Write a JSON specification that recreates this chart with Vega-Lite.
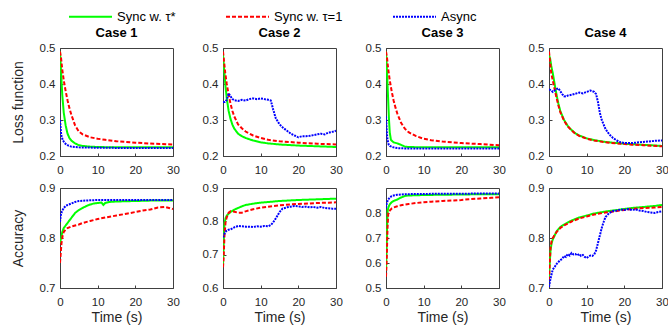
{
  "$schema": "https://vega.github.io/schema/vega-lite/v6.json",
  "padding": {"left": 10, "top": -6, "right": 0, "bottom": 0},
  "datasets": {
    "d": [
      {"c":1,"m":"L","s":"Sync w. τ*","t":0,"v":0.49},{"c":1,"m":"L","s":"Sync w. τ*","t":0.3,"v":0.43},{"c":1,"m":"L","s":"Sync w. τ*","t":0.6,"v":0.37},{"c":1,"m":"L","s":"Sync w. τ*","t":1,"v":0.32},{"c":1,"m":"L","s":"Sync w. τ*","t":1.5,"v":0.285},{"c":1,"m":"L","s":"Sync w. τ*","t":2,"v":0.262},{"c":1,"m":"L","s":"Sync w. τ*","t":2.5,"v":0.25},{"c":1,"m":"L","s":"Sync w. τ*","t":3,"v":0.243},{"c":1,"m":"L","s":"Sync w. τ*","t":4,"v":0.235},{"c":1,"m":"L","s":"Sync w. τ*","t":5,"v":0.23},{"c":1,"m":"L","s":"Sync w. τ*","t":6,"v":0.228},{"c":1,"m":"L","s":"Sync w. τ*","t":8,"v":0.226},{"c":1,"m":"L","s":"Sync w. τ*","t":10,"v":0.225},{"c":1,"m":"L","s":"Sync w. τ*","t":15,"v":0.224},{"c":1,"m":"L","s":"Sync w. τ*","t":20,"v":0.224},{"c":1,"m":"L","s":"Sync w. τ*","t":25,"v":0.224},{"c":1,"m":"L","s":"Sync w. τ*","t":30,"v":0.224},
      {"c":1,"m":"L","s":"Sync w. τ=1","t":0,"v":0.49},{"c":1,"m":"L","s":"Sync w. τ=1","t":0.3,"v":0.47},{"c":1,"m":"L","s":"Sync w. τ=1","t":0.6,"v":0.44},{"c":1,"m":"L","s":"Sync w. τ=1","t":1,"v":0.41},{"c":1,"m":"L","s":"Sync w. τ=1","t":1.5,"v":0.38},{"c":1,"m":"L","s":"Sync w. τ=1","t":2,"v":0.355},{"c":1,"m":"L","s":"Sync w. τ=1","t":2.5,"v":0.333},{"c":1,"m":"L","s":"Sync w. τ=1","t":3,"v":0.315},{"c":1,"m":"L","s":"Sync w. τ=1","t":4,"v":0.285},{"c":1,"m":"L","s":"Sync w. τ=1","t":5,"v":0.268},{"c":1,"m":"L","s":"Sync w. τ=1","t":6,"v":0.26},{"c":1,"m":"L","s":"Sync w. τ=1","t":8,"v":0.252},{"c":1,"m":"L","s":"Sync w. τ=1","t":10,"v":0.248},{"c":1,"m":"L","s":"Sync w. τ=1","t":12,"v":0.245},{"c":1,"m":"L","s":"Sync w. τ=1","t":15,"v":0.241},{"c":1,"m":"L","s":"Sync w. τ=1","t":20,"v":0.237},{"c":1,"m":"L","s":"Sync w. τ=1","t":25,"v":0.234},{"c":1,"m":"L","s":"Sync w. τ=1","t":30,"v":0.232},
      {"c":1,"m":"L","s":"Async","t":0,"v":0.30},{"c":1,"m":"L","s":"Async","t":0.3,"v":0.26},{"c":1,"m":"L","s":"Async","t":0.7,"v":0.245},{"c":1,"m":"L","s":"Async","t":1.2,"v":0.236},{"c":1,"m":"L","s":"Async","t":2,"v":0.23},{"c":1,"m":"L","s":"Async","t":3,"v":0.226},{"c":1,"m":"L","s":"Async","t":5,"v":0.224},{"c":1,"m":"L","s":"Async","t":10,"v":0.223},{"c":1,"m":"L","s":"Async","t":20,"v":0.222},{"c":1,"m":"L","s":"Async","t":30,"v":0.222},

      {"c":2,"m":"L","s":"Sync w. τ*","t":0,"v":0.48},{"c":2,"m":"L","s":"Sync w. τ*","t":0.3,"v":0.44},{"c":2,"m":"L","s":"Sync w. τ*","t":0.6,"v":0.40},{"c":2,"m":"L","s":"Sync w. τ*","t":1,"v":0.36},{"c":2,"m":"L","s":"Sync w. τ*","t":1.5,"v":0.325},{"c":2,"m":"L","s":"Sync w. τ*","t":2,"v":0.303},{"c":2,"m":"L","s":"Sync w. τ*","t":2.5,"v":0.287},{"c":2,"m":"L","s":"Sync w. τ*","t":3,"v":0.276},{"c":2,"m":"L","s":"Sync w. τ*","t":4,"v":0.262},{"c":2,"m":"L","s":"Sync w. τ*","t":5,"v":0.255},{"c":2,"m":"L","s":"Sync w. τ*","t":6,"v":0.25},{"c":2,"m":"L","s":"Sync w. τ*","t":8,"v":0.243},{"c":2,"m":"L","s":"Sync w. τ*","t":10,"v":0.238},{"c":2,"m":"L","s":"Sync w. τ*","t":12,"v":0.235},{"c":2,"m":"L","s":"Sync w. τ*","t":15,"v":0.232},{"c":2,"m":"L","s":"Sync w. τ*","t":20,"v":0.229},{"c":2,"m":"L","s":"Sync w. τ*","t":25,"v":0.227},{"c":2,"m":"L","s":"Sync w. τ*","t":30,"v":0.225},
      {"c":2,"m":"L","s":"Sync w. τ=1","t":0,"v":0.49},{"c":2,"m":"L","s":"Sync w. τ=1","t":0.3,"v":0.46},{"c":2,"m":"L","s":"Sync w. τ=1","t":0.6,"v":0.43},{"c":2,"m":"L","s":"Sync w. τ=1","t":1,"v":0.40},{"c":2,"m":"L","s":"Sync w. τ=1","t":1.5,"v":0.37},{"c":2,"m":"L","s":"Sync w. τ=1","t":2,"v":0.345},{"c":2,"m":"L","s":"Sync w. τ=1","t":2.5,"v":0.325},{"c":2,"m":"L","s":"Sync w. τ=1","t":3,"v":0.31},{"c":2,"m":"L","s":"Sync w. τ=1","t":4,"v":0.288},{"c":2,"m":"L","s":"Sync w. τ=1","t":5,"v":0.277},{"c":2,"m":"L","s":"Sync w. τ=1","t":6,"v":0.268},{"c":2,"m":"L","s":"Sync w. τ=1","t":8,"v":0.257},{"c":2,"m":"L","s":"Sync w. τ=1","t":10,"v":0.25},{"c":2,"m":"L","s":"Sync w. τ=1","t":12,"v":0.245},{"c":2,"m":"L","s":"Sync w. τ=1","t":15,"v":0.241},{"c":2,"m":"L","s":"Sync w. τ=1","t":20,"v":0.237},{"c":2,"m":"L","s":"Sync w. τ=1","t":25,"v":0.234},{"c":2,"m":"L","s":"Sync w. τ=1","t":30,"v":0.232},
      {"c":2,"m":"L","s":"Async","t":0,"v":0.35},{"c":2,"m":"L","s":"Async","t":0.5,"v":0.35},{"c":2,"m":"L","s":"Async","t":1,"v":0.356},{"c":2,"m":"L","s":"Async","t":1.5,"v":0.374},{"c":2,"m":"L","s":"Async","t":2,"v":0.366},{"c":2,"m":"L","s":"Async","t":2.5,"v":0.358},{"c":2,"m":"L","s":"Async","t":3,"v":0.355},{"c":2,"m":"L","s":"Async","t":4,"v":0.353},{"c":2,"m":"L","s":"Async","t":5,"v":0.356},{"c":2,"m":"L","s":"Async","t":6,"v":0.354},{"c":2,"m":"L","s":"Async","t":7,"v":0.358},{"c":2,"m":"L","s":"Async","t":8,"v":0.36},{"c":2,"m":"L","s":"Async","t":9,"v":0.358},{"c":2,"m":"L","s":"Async","t":10,"v":0.36},{"c":2,"m":"L","s":"Async","t":11,"v":0.358},{"c":2,"m":"L","s":"Async","t":12,"v":0.356},{"c":2,"m":"L","s":"Async","t":12.7,"v":0.354},{"c":2,"m":"L","s":"Async","t":13.3,"v":0.33},{"c":2,"m":"L","s":"Async","t":14,"v":0.305},{"c":2,"m":"L","s":"Async","t":15,"v":0.288},{"c":2,"m":"L","s":"Async","t":16,"v":0.278},{"c":2,"m":"L","s":"Async","t":17,"v":0.27},{"c":2,"m":"L","s":"Async","t":18,"v":0.262},{"c":2,"m":"L","s":"Async","t":19,"v":0.257},{"c":2,"m":"L","s":"Async","t":20,"v":0.252},{"c":2,"m":"L","s":"Async","t":21,"v":0.255},{"c":2,"m":"L","s":"Async","t":22,"v":0.255},{"c":2,"m":"L","s":"Async","t":23,"v":0.256},{"c":2,"m":"L","s":"Async","t":24,"v":0.258},{"c":2,"m":"L","s":"Async","t":25,"v":0.26},{"c":2,"m":"L","s":"Async","t":26,"v":0.262},{"c":2,"m":"L","s":"Async","t":27,"v":0.26},{"c":2,"m":"L","s":"Async","t":28,"v":0.265},{"c":2,"m":"L","s":"Async","t":29,"v":0.267},{"c":2,"m":"L","s":"Async","t":30,"v":0.27},

      {"c":3,"m":"L","s":"Sync w. τ*","t":0,"v":0.49},{"c":3,"m":"L","s":"Sync w. τ*","t":0.2,"v":0.45},{"c":3,"m":"L","s":"Sync w. τ*","t":0.4,"v":0.40},{"c":3,"m":"L","s":"Sync w. τ*","t":0.6,"v":0.35},{"c":3,"m":"L","s":"Sync w. τ*","t":0.8,"v":0.30},{"c":3,"m":"L","s":"Sync w. τ*","t":1,"v":0.265},{"c":3,"m":"L","s":"Sync w. τ*","t":1.3,"v":0.245},{"c":3,"m":"L","s":"Sync w. τ*","t":2,"v":0.238},{"c":3,"m":"L","s":"Sync w. τ*","t":3,"v":0.235},{"c":3,"m":"L","s":"Sync w. τ*","t":4,"v":0.231},{"c":3,"m":"L","s":"Sync w. τ*","t":5,"v":0.226},{"c":3,"m":"L","s":"Sync w. τ*","t":6,"v":0.225},{"c":3,"m":"L","s":"Sync w. τ*","t":10,"v":0.224},{"c":3,"m":"L","s":"Sync w. τ*","t":20,"v":0.224},{"c":3,"m":"L","s":"Sync w. τ*","t":30,"v":0.224},
      {"c":3,"m":"L","s":"Sync w. τ=1","t":0,"v":0.49},{"c":3,"m":"L","s":"Sync w. τ=1","t":0.3,"v":0.47},{"c":3,"m":"L","s":"Sync w. τ=1","t":0.6,"v":0.44},{"c":3,"m":"L","s":"Sync w. τ=1","t":1,"v":0.41},{"c":3,"m":"L","s":"Sync w. τ=1","t":1.5,"v":0.38},{"c":3,"m":"L","s":"Sync w. τ=1","t":2,"v":0.355},{"c":3,"m":"L","s":"Sync w. τ=1","t":2.5,"v":0.335},{"c":3,"m":"L","s":"Sync w. τ=1","t":3,"v":0.318},{"c":3,"m":"L","s":"Sync w. τ=1","t":4,"v":0.292},{"c":3,"m":"L","s":"Sync w. τ=1","t":5,"v":0.276},{"c":3,"m":"L","s":"Sync w. τ=1","t":6,"v":0.266},{"c":3,"m":"L","s":"Sync w. τ=1","t":8,"v":0.255},{"c":3,"m":"L","s":"Sync w. τ=1","t":10,"v":0.248},{"c":3,"m":"L","s":"Sync w. τ=1","t":12,"v":0.244},{"c":3,"m":"L","s":"Sync w. τ=1","t":15,"v":0.24},{"c":3,"m":"L","s":"Sync w. τ=1","t":20,"v":0.236},{"c":3,"m":"L","s":"Sync w. τ=1","t":25,"v":0.233},{"c":3,"m":"L","s":"Sync w. τ=1","t":30,"v":0.23},
      {"c":3,"m":"L","s":"Async","t":0,"v":0.31},{"c":3,"m":"L","s":"Async","t":0.2,"v":0.27},{"c":3,"m":"L","s":"Async","t":0.4,"v":0.245},{"c":3,"m":"L","s":"Async","t":0.7,"v":0.232},{"c":3,"m":"L","s":"Async","t":1,"v":0.228},{"c":3,"m":"L","s":"Async","t":2,"v":0.224},{"c":3,"m":"L","s":"Async","t":3,"v":0.222},{"c":3,"m":"L","s":"Async","t":5,"v":0.221},{"c":3,"m":"L","s":"Async","t":10,"v":0.221},{"c":3,"m":"L","s":"Async","t":30,"v":0.221},

      {"c":4,"m":"L","s":"Sync w. τ*","t":0,"v":0.48},{"c":4,"m":"L","s":"Sync w. τ*","t":0.3,"v":0.47},{"c":4,"m":"L","s":"Sync w. τ*","t":0.6,"v":0.45},{"c":4,"m":"L","s":"Sync w. τ*","t":1,"v":0.43},{"c":4,"m":"L","s":"Sync w. τ*","t":1.5,"v":0.40},{"c":4,"m":"L","s":"Sync w. τ*","t":2,"v":0.37},{"c":4,"m":"L","s":"Sync w. τ*","t":2.5,"v":0.345},{"c":4,"m":"L","s":"Sync w. τ*","t":3,"v":0.325},{"c":4,"m":"L","s":"Sync w. τ*","t":4,"v":0.30},{"c":4,"m":"L","s":"Sync w. τ*","t":5,"v":0.283},{"c":4,"m":"L","s":"Sync w. τ*","t":6,"v":0.272},{"c":4,"m":"L","s":"Sync w. τ*","t":7,"v":0.263},{"c":4,"m":"L","s":"Sync w. τ*","t":8,"v":0.257},{"c":4,"m":"L","s":"Sync w. τ*","t":10,"v":0.249},{"c":4,"m":"L","s":"Sync w. τ*","t":12,"v":0.244},{"c":4,"m":"L","s":"Sync w. τ*","t":15,"v":0.239},{"c":4,"m":"L","s":"Sync w. τ*","t":18,"v":0.236},{"c":4,"m":"L","s":"Sync w. τ*","t":20,"v":0.234},{"c":4,"m":"L","s":"Sync w. τ*","t":25,"v":0.231},{"c":4,"m":"L","s":"Sync w. τ*","t":30,"v":0.228},
      {"c":4,"m":"L","s":"Sync w. τ=1","t":0,"v":0.49},{"c":4,"m":"L","s":"Sync w. τ=1","t":0.3,"v":0.46},{"c":4,"m":"L","s":"Sync w. τ=1","t":0.6,"v":0.43},{"c":4,"m":"L","s":"Sync w. τ=1","t":1,"v":0.41},{"c":4,"m":"L","s":"Sync w. τ=1","t":1.5,"v":0.385},{"c":4,"m":"L","s":"Sync w. τ=1","t":2,"v":0.362},{"c":4,"m":"L","s":"Sync w. τ=1","t":2.5,"v":0.34},{"c":4,"m":"L","s":"Sync w. τ=1","t":3,"v":0.322},{"c":4,"m":"L","s":"Sync w. τ=1","t":4,"v":0.298},{"c":4,"m":"L","s":"Sync w. τ=1","t":5,"v":0.282},{"c":4,"m":"L","s":"Sync w. τ=1","t":6,"v":0.271},{"c":4,"m":"L","s":"Sync w. τ=1","t":7,"v":0.262},{"c":4,"m":"L","s":"Sync w. τ=1","t":8,"v":0.256},{"c":4,"m":"L","s":"Sync w. τ=1","t":10,"v":0.248},{"c":4,"m":"L","s":"Sync w. τ=1","t":12,"v":0.243},{"c":4,"m":"L","s":"Sync w. τ=1","t":15,"v":0.238},{"c":4,"m":"L","s":"Sync w. τ=1","t":18,"v":0.235},{"c":4,"m":"L","s":"Sync w. τ=1","t":20,"v":0.233},{"c":4,"m":"L","s":"Sync w. τ=1","t":25,"v":0.23},{"c":4,"m":"L","s":"Sync w. τ=1","t":30,"v":0.227},
      {"c":4,"m":"L","s":"Async","t":0,"v":0.385},{"c":4,"m":"L","s":"Async","t":0.5,"v":0.383},{"c":4,"m":"L","s":"Async","t":1,"v":0.378},{"c":4,"m":"L","s":"Async","t":1.5,"v":0.382},{"c":4,"m":"L","s":"Async","t":2,"v":0.386},{"c":4,"m":"L","s":"Async","t":2.5,"v":0.388},{"c":4,"m":"L","s":"Async","t":3,"v":0.38},{"c":4,"m":"L","s":"Async","t":3.5,"v":0.372},{"c":4,"m":"L","s":"Async","t":4,"v":0.366},{"c":4,"m":"L","s":"Async","t":4.5,"v":0.365},{"c":4,"m":"L","s":"Async","t":5,"v":0.368},{"c":4,"m":"L","s":"Async","t":6,"v":0.37},{"c":4,"m":"L","s":"Async","t":7,"v":0.373},{"c":4,"m":"L","s":"Async","t":8,"v":0.376},{"c":4,"m":"L","s":"Async","t":9,"v":0.374},{"c":4,"m":"L","s":"Async","t":10,"v":0.378},{"c":4,"m":"L","s":"Async","t":11,"v":0.382},{"c":4,"m":"L","s":"Async","t":11.5,"v":0.38},{"c":4,"m":"L","s":"Async","t":12,"v":0.378},{"c":4,"m":"L","s":"Async","t":12.5,"v":0.372},{"c":4,"m":"L","s":"Async","t":13,"v":0.35},{"c":4,"m":"L","s":"Async","t":13.5,"v":0.32},{"c":4,"m":"L","s":"Async","t":14,"v":0.30},{"c":4,"m":"L","s":"Async","t":15,"v":0.275},{"c":4,"m":"L","s":"Async","t":16,"v":0.26},{"c":4,"m":"L","s":"Async","t":17,"v":0.25},{"c":4,"m":"L","s":"Async","t":18,"v":0.243},{"c":4,"m":"L","s":"Async","t":19,"v":0.238},{"c":4,"m":"L","s":"Async","t":20,"v":0.236},{"c":4,"m":"L","s":"Async","t":22,"v":0.236},{"c":4,"m":"L","s":"Async","t":24,"v":0.238},{"c":4,"m":"L","s":"Async","t":26,"v":0.24},{"c":4,"m":"L","s":"Async","t":28,"v":0.242},{"c":4,"m":"L","s":"Async","t":30,"v":0.243},

      {"c":1,"m":"A","s":"Sync w. τ*","t":0,"v":0.79},{"c":1,"m":"A","s":"Sync w. τ*","t":0.3,"v":0.80},{"c":1,"m":"A","s":"Sync w. τ*","t":0.6,"v":0.812},{"c":1,"m":"A","s":"Sync w. τ*","t":1,"v":0.82},{"c":1,"m":"A","s":"Sync w. τ*","t":1.5,"v":0.825},{"c":1,"m":"A","s":"Sync w. τ*","t":2,"v":0.83},{"c":1,"m":"A","s":"Sync w. τ*","t":3,"v":0.84},{"c":1,"m":"A","s":"Sync w. τ*","t":4,"v":0.85},{"c":1,"m":"A","s":"Sync w. τ*","t":5,"v":0.856},{"c":1,"m":"A","s":"Sync w. τ*","t":6,"v":0.86},{"c":1,"m":"A","s":"Sync w. τ*","t":7,"v":0.864},{"c":1,"m":"A","s":"Sync w. τ*","t":8,"v":0.867},{"c":1,"m":"A","s":"Sync w. τ*","t":9,"v":0.869},{"c":1,"m":"A","s":"Sync w. τ*","t":10,"v":0.87},{"c":1,"m":"A","s":"Sync w. τ*","t":11,"v":0.871},{"c":1,"m":"A","s":"Sync w. τ*","t":11.5,"v":0.866},{"c":1,"m":"A","s":"Sync w. τ*","t":12,"v":0.87},{"c":1,"m":"A","s":"Sync w. τ*","t":13,"v":0.872},{"c":1,"m":"A","s":"Sync w. τ*","t":15,"v":0.873},{"c":1,"m":"A","s":"Sync w. τ*","t":20,"v":0.874},{"c":1,"m":"A","s":"Sync w. τ*","t":25,"v":0.875},{"c":1,"m":"A","s":"Sync w. τ*","t":30,"v":0.875},
      {"c":1,"m":"A","s":"Sync w. τ=1","t":0,"v":0.75},{"c":1,"m":"A","s":"Sync w. τ=1","t":0.2,"v":0.77},{"c":1,"m":"A","s":"Sync w. τ=1","t":0.4,"v":0.79},{"c":1,"m":"A","s":"Sync w. τ=1","t":0.7,"v":0.805},{"c":1,"m":"A","s":"Sync w. τ=1","t":1,"v":0.812},{"c":1,"m":"A","s":"Sync w. τ=1","t":1.5,"v":0.817},{"c":1,"m":"A","s":"Sync w. τ=1","t":2,"v":0.82},{"c":1,"m":"A","s":"Sync w. τ=1","t":3,"v":0.823},{"c":1,"m":"A","s":"Sync w. τ=1","t":4,"v":0.825},{"c":1,"m":"A","s":"Sync w. τ=1","t":5,"v":0.827},{"c":1,"m":"A","s":"Sync w. τ=1","t":6,"v":0.83},{"c":1,"m":"A","s":"Sync w. τ=1","t":8,"v":0.834},{"c":1,"m":"A","s":"Sync w. τ=1","t":10,"v":0.838},{"c":1,"m":"A","s":"Sync w. τ=1","t":12,"v":0.841},{"c":1,"m":"A","s":"Sync w. τ=1","t":15,"v":0.845},{"c":1,"m":"A","s":"Sync w. τ=1","t":18,"v":0.849},{"c":1,"m":"A","s":"Sync w. τ=1","t":20,"v":0.852},{"c":1,"m":"A","s":"Sync w. τ=1","t":22,"v":0.855},{"c":1,"m":"A","s":"Sync w. τ=1","t":24,"v":0.857},{"c":1,"m":"A","s":"Sync w. τ=1","t":26,"v":0.861},{"c":1,"m":"A","s":"Sync w. τ=1","t":28,"v":0.862},{"c":1,"m":"A","s":"Sync w. τ=1","t":30,"v":0.858},
      {"c":1,"m":"A","s":"Async","t":0,"v":0.832},{"c":1,"m":"A","s":"Async","t":0.2,"v":0.845},{"c":1,"m":"A","s":"Async","t":0.5,"v":0.853},{"c":1,"m":"A","s":"Async","t":1,"v":0.86},{"c":1,"m":"A","s":"Async","t":1.5,"v":0.864},{"c":1,"m":"A","s":"Async","t":2,"v":0.866},{"c":1,"m":"A","s":"Async","t":3,"v":0.869},{"c":1,"m":"A","s":"Async","t":4,"v":0.872},{"c":1,"m":"A","s":"Async","t":5,"v":0.874},{"c":1,"m":"A","s":"Async","t":7,"v":0.875},{"c":1,"m":"A","s":"Async","t":10,"v":0.876},{"c":1,"m":"A","s":"Async","t":20,"v":0.876},{"c":1,"m":"A","s":"Async","t":30,"v":0.876},

      {"c":2,"m":"A","s":"Sync w. τ*","t":0,"v":0.668},{"c":2,"m":"A","s":"Sync w. τ*","t":0.2,"v":0.74},{"c":2,"m":"A","s":"Sync w. τ*","t":0.4,"v":0.795},{"c":2,"m":"A","s":"Sync w. τ*","t":0.7,"v":0.81},{"c":2,"m":"A","s":"Sync w. τ*","t":1,"v":0.817},{"c":2,"m":"A","s":"Sync w. τ*","t":1.5,"v":0.823},{"c":2,"m":"A","s":"Sync w. τ*","t":2,"v":0.828},{"c":2,"m":"A","s":"Sync w. τ*","t":3,"v":0.835},{"c":2,"m":"A","s":"Sync w. τ*","t":4,"v":0.84},{"c":2,"m":"A","s":"Sync w. τ*","t":5,"v":0.845},{"c":2,"m":"A","s":"Sync w. τ*","t":6,"v":0.849},{"c":2,"m":"A","s":"Sync w. τ*","t":8,"v":0.853},{"c":2,"m":"A","s":"Sync w. τ*","t":10,"v":0.856},{"c":2,"m":"A","s":"Sync w. τ*","t":12,"v":0.858},{"c":2,"m":"A","s":"Sync w. τ*","t":15,"v":0.861},{"c":2,"m":"A","s":"Sync w. τ*","t":20,"v":0.864},{"c":2,"m":"A","s":"Sync w. τ*","t":25,"v":0.866},{"c":2,"m":"A","s":"Sync w. τ*","t":30,"v":0.868},
      {"c":2,"m":"A","s":"Sync w. τ=1","t":0,"v":0.662},{"c":2,"m":"A","s":"Sync w. τ=1","t":0.2,"v":0.70},{"c":2,"m":"A","s":"Sync w. τ=1","t":0.4,"v":0.76},{"c":2,"m":"A","s":"Sync w. τ=1","t":0.7,"v":0.80},{"c":2,"m":"A","s":"Sync w. τ=1","t":1,"v":0.812},{"c":2,"m":"A","s":"Sync w. τ=1","t":1.5,"v":0.826},{"c":2,"m":"A","s":"Sync w. τ=1","t":2,"v":0.83},{"c":2,"m":"A","s":"Sync w. τ=1","t":3,"v":0.829},{"c":2,"m":"A","s":"Sync w. τ=1","t":4,"v":0.826},{"c":2,"m":"A","s":"Sync w. τ=1","t":5,"v":0.826},{"c":2,"m":"A","s":"Sync w. τ=1","t":6,"v":0.83},{"c":2,"m":"A","s":"Sync w. τ=1","t":8,"v":0.836},{"c":2,"m":"A","s":"Sync w. τ=1","t":10,"v":0.841},{"c":2,"m":"A","s":"Sync w. τ=1","t":12,"v":0.844},{"c":2,"m":"A","s":"Sync w. τ=1","t":15,"v":0.848},{"c":2,"m":"A","s":"Sync w. τ=1","t":18,"v":0.851},{"c":2,"m":"A","s":"Sync w. τ=1","t":20,"v":0.852},{"c":2,"m":"A","s":"Sync w. τ=1","t":25,"v":0.855},{"c":2,"m":"A","s":"Sync w. τ=1","t":28,"v":0.856},{"c":2,"m":"A","s":"Sync w. τ=1","t":30,"v":0.857},
      {"c":2,"m":"A","s":"Async","t":0,"v":0.752},{"c":2,"m":"A","s":"Async","t":0.3,"v":0.76},{"c":2,"m":"A","s":"Async","t":0.6,"v":0.768},{"c":2,"m":"A","s":"Async","t":1,"v":0.772},{"c":2,"m":"A","s":"Async","t":1.5,"v":0.775},{"c":2,"m":"A","s":"Async","t":2,"v":0.776},{"c":2,"m":"A","s":"Async","t":3,"v":0.782},{"c":2,"m":"A","s":"Async","t":4,"v":0.786},{"c":2,"m":"A","s":"Async","t":5,"v":0.785},{"c":2,"m":"A","s":"Async","t":6,"v":0.784},{"c":2,"m":"A","s":"Async","t":7,"v":0.784},{"c":2,"m":"A","s":"Async","t":8,"v":0.783},{"c":2,"m":"A","s":"Async","t":9,"v":0.785},{"c":2,"m":"A","s":"Async","t":10,"v":0.784},{"c":2,"m":"A","s":"Async","t":11,"v":0.786},{"c":2,"m":"A","s":"Async","t":12,"v":0.785},{"c":2,"m":"A","s":"Async","t":12.8,"v":0.79},{"c":2,"m":"A","s":"Async","t":13.5,"v":0.80},{"c":2,"m":"A","s":"Async","t":14.2,"v":0.812},{"c":2,"m":"A","s":"Async","t":15,"v":0.828},{"c":2,"m":"A","s":"Async","t":15.8,"v":0.838},{"c":2,"m":"A","s":"Async","t":17,"v":0.842},{"c":2,"m":"A","s":"Async","t":18,"v":0.844},{"c":2,"m":"A","s":"Async","t":19,"v":0.846},{"c":2,"m":"A","s":"Async","t":20,"v":0.845},{"c":2,"m":"A","s":"Async","t":21,"v":0.843},{"c":2,"m":"A","s":"Async","t":22,"v":0.844},{"c":2,"m":"A","s":"Async","t":23,"v":0.842},{"c":2,"m":"A","s":"Async","t":24,"v":0.843},{"c":2,"m":"A","s":"Async","t":25,"v":0.841},{"c":2,"m":"A","s":"Async","t":26,"v":0.843},{"c":2,"m":"A","s":"Async","t":27,"v":0.84},{"c":2,"m":"A","s":"Async","t":28,"v":0.839},{"c":2,"m":"A","s":"Async","t":29,"v":0.838},{"c":2,"m":"A","s":"Async","t":30,"v":0.838},

      {"c":3,"m":"A","s":"Sync w. τ*","t":0,"v":0.57},{"c":3,"m":"A","s":"Sync w. τ*","t":0.15,"v":0.65},{"c":3,"m":"A","s":"Sync w. τ*","t":0.3,"v":0.75},{"c":3,"m":"A","s":"Sync w. τ*","t":0.45,"v":0.81},{"c":3,"m":"A","s":"Sync w. τ*","t":0.7,"v":0.825},{"c":3,"m":"A","s":"Sync w. τ*","t":1,"v":0.835},{"c":3,"m":"A","s":"Sync w. τ*","t":1.5,"v":0.843},{"c":3,"m":"A","s":"Sync w. τ*","t":2,"v":0.848},{"c":3,"m":"A","s":"Sync w. τ*","t":3,"v":0.854},{"c":3,"m":"A","s":"Sync w. τ*","t":4,"v":0.862},{"c":3,"m":"A","s":"Sync w. τ*","t":5,"v":0.868},{"c":3,"m":"A","s":"Sync w. τ*","t":6,"v":0.87},{"c":3,"m":"A","s":"Sync w. τ*","t":8,"v":0.871},{"c":3,"m":"A","s":"Sync w. τ*","t":10,"v":0.872},{"c":3,"m":"A","s":"Sync w. τ*","t":15,"v":0.873},{"c":3,"m":"A","s":"Sync w. τ*","t":20,"v":0.874},{"c":3,"m":"A","s":"Sync w. τ*","t":25,"v":0.875},{"c":3,"m":"A","s":"Sync w. τ*","t":30,"v":0.875},
      {"c":3,"m":"A","s":"Sync w. τ=1","t":0,"v":0.545},{"c":3,"m":"A","s":"Sync w. τ=1","t":0.2,"v":0.62},{"c":3,"m":"A","s":"Sync w. τ=1","t":0.4,"v":0.74},{"c":3,"m":"A","s":"Sync w. τ=1","t":0.6,"v":0.80},{"c":3,"m":"A","s":"Sync w. τ=1","t":1,"v":0.81},{"c":3,"m":"A","s":"Sync w. τ=1","t":1.5,"v":0.818},{"c":3,"m":"A","s":"Sync w. τ=1","t":2,"v":0.822},{"c":3,"m":"A","s":"Sync w. τ=1","t":3,"v":0.827},{"c":3,"m":"A","s":"Sync w. τ=1","t":4,"v":0.831},{"c":3,"m":"A","s":"Sync w. τ=1","t":5,"v":0.834},{"c":3,"m":"A","s":"Sync w. τ=1","t":6,"v":0.836},{"c":3,"m":"A","s":"Sync w. τ=1","t":8,"v":0.84},{"c":3,"m":"A","s":"Sync w. τ=1","t":10,"v":0.843},{"c":3,"m":"A","s":"Sync w. τ=1","t":12,"v":0.845},{"c":3,"m":"A","s":"Sync w. τ=1","t":15,"v":0.848},{"c":3,"m":"A","s":"Sync w. τ=1","t":18,"v":0.85},{"c":3,"m":"A","s":"Sync w. τ=1","t":20,"v":0.852},{"c":3,"m":"A","s":"Sync w. τ=1","t":22,"v":0.855},{"c":3,"m":"A","s":"Sync w. τ=1","t":25,"v":0.858},{"c":3,"m":"A","s":"Sync w. τ=1","t":28,"v":0.861},{"c":3,"m":"A","s":"Sync w. τ=1","t":30,"v":0.863},
      {"c":3,"m":"A","s":"Async","t":0,"v":0.82},{"c":3,"m":"A","s":"Async","t":0.2,"v":0.84},{"c":3,"m":"A","s":"Async","t":0.5,"v":0.852},{"c":3,"m":"A","s":"Async","t":1,"v":0.862},{"c":3,"m":"A","s":"Async","t":1.5,"v":0.867},{"c":3,"m":"A","s":"Async","t":2,"v":0.87},{"c":3,"m":"A","s":"Async","t":3,"v":0.873},{"c":3,"m":"A","s":"Async","t":5,"v":0.875},{"c":3,"m":"A","s":"Async","t":8,"v":0.876},{"c":3,"m":"A","s":"Async","t":15,"v":0.877},{"c":3,"m":"A","s":"Async","t":30,"v":0.878},

      {"c":4,"m":"A","s":"Sync w. τ*","t":0,"v":0.72},{"c":4,"m":"A","s":"Sync w. τ*","t":0.2,"v":0.75},{"c":4,"m":"A","s":"Sync w. τ*","t":0.4,"v":0.775},{"c":4,"m":"A","s":"Sync w. τ*","t":0.7,"v":0.79},{"c":4,"m":"A","s":"Sync w. τ*","t":1,"v":0.797},{"c":4,"m":"A","s":"Sync w. τ*","t":1.5,"v":0.805},{"c":4,"m":"A","s":"Sync w. τ*","t":2,"v":0.813},{"c":4,"m":"A","s":"Sync w. τ*","t":3,"v":0.822},{"c":4,"m":"A","s":"Sync w. τ*","t":4,"v":0.827},{"c":4,"m":"A","s":"Sync w. τ*","t":5,"v":0.831},{"c":4,"m":"A","s":"Sync w. τ*","t":6,"v":0.835},{"c":4,"m":"A","s":"Sync w. τ*","t":7,"v":0.838},{"c":4,"m":"A","s":"Sync w. τ*","t":8,"v":0.841},{"c":4,"m":"A","s":"Sync w. τ*","t":10,"v":0.845},{"c":4,"m":"A","s":"Sync w. τ*","t":12,"v":0.849},{"c":4,"m":"A","s":"Sync w. τ*","t":15,"v":0.853},{"c":4,"m":"A","s":"Sync w. τ*","t":18,"v":0.856},{"c":4,"m":"A","s":"Sync w. τ*","t":20,"v":0.858},{"c":4,"m":"A","s":"Sync w. τ*","t":22,"v":0.86},{"c":4,"m":"A","s":"Sync w. τ*","t":25,"v":0.862},{"c":4,"m":"A","s":"Sync w. τ*","t":28,"v":0.864},{"c":4,"m":"A","s":"Sync w. τ*","t":30,"v":0.866},
      {"c":4,"m":"A","s":"Sync w. τ=1","t":0,"v":0.715},{"c":4,"m":"A","s":"Sync w. τ=1","t":0.2,"v":0.75},{"c":4,"m":"A","s":"Sync w. τ=1","t":0.4,"v":0.78},{"c":4,"m":"A","s":"Sync w. τ=1","t":0.7,"v":0.795},{"c":4,"m":"A","s":"Sync w. τ=1","t":1,"v":0.80},{"c":4,"m":"A","s":"Sync w. τ=1","t":1.5,"v":0.806},{"c":4,"m":"A","s":"Sync w. τ=1","t":2,"v":0.812},{"c":4,"m":"A","s":"Sync w. τ=1","t":3,"v":0.82},{"c":4,"m":"A","s":"Sync w. τ=1","t":4,"v":0.825},{"c":4,"m":"A","s":"Sync w. τ=1","t":5,"v":0.829},{"c":4,"m":"A","s":"Sync w. τ=1","t":6,"v":0.833},{"c":4,"m":"A","s":"Sync w. τ=1","t":7,"v":0.836},{"c":4,"m":"A","s":"Sync w. τ=1","t":8,"v":0.839},{"c":4,"m":"A","s":"Sync w. τ=1","t":10,"v":0.843},{"c":4,"m":"A","s":"Sync w. τ=1","t":12,"v":0.847},{"c":4,"m":"A","s":"Sync w. τ=1","t":15,"v":0.851},{"c":4,"m":"A","s":"Sync w. τ=1","t":18,"v":0.854},{"c":4,"m":"A","s":"Sync w. τ=1","t":20,"v":0.856},{"c":4,"m":"A","s":"Sync w. τ=1","t":22,"v":0.858},{"c":4,"m":"A","s":"Sync w. τ=1","t":25,"v":0.86},{"c":4,"m":"A","s":"Sync w. τ=1","t":28,"v":0.861},{"c":4,"m":"A","s":"Sync w. τ=1","t":30,"v":0.862},
      {"c":4,"m":"A","s":"Async","t":0,"v":0.702},{"c":4,"m":"A","s":"Async","t":0.3,"v":0.715},{"c":4,"m":"A","s":"Async","t":0.6,"v":0.725},{"c":4,"m":"A","s":"Async","t":1,"v":0.737},{"c":4,"m":"A","s":"Async","t":1.5,"v":0.742},{"c":4,"m":"A","s":"Async","t":2,"v":0.748},{"c":4,"m":"A","s":"Async","t":2.5,"v":0.752},{"c":4,"m":"A","s":"Async","t":3,"v":0.756},{"c":4,"m":"A","s":"Async","t":3.5,"v":0.758},{"c":4,"m":"A","s":"Async","t":4,"v":0.764},{"c":4,"m":"A","s":"Async","t":4.5,"v":0.762},{"c":4,"m":"A","s":"Async","t":5,"v":0.768},{"c":4,"m":"A","s":"Async","t":5.5,"v":0.765},{"c":4,"m":"A","s":"Async","t":6,"v":0.77},{"c":4,"m":"A","s":"Async","t":6.5,"v":0.767},{"c":4,"m":"A","s":"Async","t":7,"v":0.768},{"c":4,"m":"A","s":"Async","t":7.5,"v":0.765},{"c":4,"m":"A","s":"Async","t":8,"v":0.768},{"c":4,"m":"A","s":"Async","t":8.5,"v":0.764},{"c":4,"m":"A","s":"Async","t":9,"v":0.766},{"c":4,"m":"A","s":"Async","t":9.5,"v":0.762},{"c":4,"m":"A","s":"Async","t":10,"v":0.76},{"c":4,"m":"A","s":"Async","t":10.5,"v":0.763},{"c":4,"m":"A","s":"Async","t":11,"v":0.765},{"c":4,"m":"A","s":"Async","t":11.5,"v":0.764},{"c":4,"m":"A","s":"Async","t":12,"v":0.767},{"c":4,"m":"A","s":"Async","t":12.5,"v":0.775},{"c":4,"m":"A","s":"Async","t":13,"v":0.79},{"c":4,"m":"A","s":"Async","t":13.5,"v":0.805},{"c":4,"m":"A","s":"Async","t":14,"v":0.82},{"c":4,"m":"A","s":"Async","t":14.5,"v":0.832},{"c":4,"m":"A","s":"Async","t":15,"v":0.842},{"c":4,"m":"A","s":"Async","t":16,"v":0.85},{"c":4,"m":"A","s":"Async","t":17,"v":0.854},{"c":4,"m":"A","s":"Async","t":18,"v":0.855},{"c":4,"m":"A","s":"Async","t":19,"v":0.857},{"c":4,"m":"A","s":"Async","t":20,"v":0.856},{"c":4,"m":"A","s":"Async","t":21,"v":0.858},{"c":4,"m":"A","s":"Async","t":22,"v":0.856},{"c":4,"m":"A","s":"Async","t":23,"v":0.857},{"c":4,"m":"A","s":"Async","t":24,"v":0.855},{"c":4,"m":"A","s":"Async","t":25,"v":0.854},{"c":4,"m":"A","s":"Async","t":26,"v":0.852},{"c":4,"m":"A","s":"Async","t":27,"v":0.851},{"c":4,"m":"A","s":"Async","t":28,"v":0.85},{"c":4,"m":"A","s":"Async","t":29,"v":0.852},{"c":4,"m":"A","s":"Async","t":30,"v":0.853}
    ]
  },
  "data": {"name": "d"},
  "columns": 4,
  "bounds": "flush",
  "spacing": {"row": 32, "column": 50},
  "concat": [
    {"width": 113, "height": 108, "title": "Case 1",
     "transform": [{"filter": "datum.c == 1 && datum.m == 'L'"}],
     "mark": {"type": "line", "clip": true},
     "encoding": {
       "x": {"field": "t", "type": "quantitative", "scale": {"domain": [0, 30]}, "axis": {"values": [0, 10, 20, 30], "title": null}},
       "y": {"field": "v", "type": "quantitative", "scale": {"domain": [0.2, 0.5]}, "axis": {"values": [0.2, 0.3, 0.4, 0.5], "format": ".1f", "title": "Loss function"}},
       "color": {"field": "s", "type": "nominal", "title": null, "scale": {"domain": ["Sync w. τ*", "Sync w. τ=1", "Async"]}},
       "strokeDash": {"field": "s", "type": "nominal", "title": null, "scale": {"domain": ["Sync w. τ*", "Sync w. τ=1", "Async"]}}}},
    {"width": 113, "height": 108, "title": "Case 2",
     "transform": [{"filter": "datum.c == 2 && datum.m == 'L'"}],
     "mark": {"type": "line", "clip": true},
     "encoding": {
       "x": {"field": "t", "type": "quantitative", "scale": {"domain": [0, 30]}, "axis": {"values": [0, 10, 20, 30], "title": null}},
       "y": {"field": "v", "type": "quantitative", "scale": {"domain": [0.2, 0.5]}, "axis": {"values": [0.2, 0.3, 0.4, 0.5], "format": ".1f", "title": null}},
       "color": {"field": "s", "type": "nominal", "title": null, "scale": {"domain": ["Sync w. τ*", "Sync w. τ=1", "Async"]}},
       "strokeDash": {"field": "s", "type": "nominal", "title": null, "scale": {"domain": ["Sync w. τ*", "Sync w. τ=1", "Async"]}}}},
    {"width": 113, "height": 108, "title": "Case 3",
     "transform": [{"filter": "datum.c == 3 && datum.m == 'L'"}],
     "mark": {"type": "line", "clip": true},
     "encoding": {
       "x": {"field": "t", "type": "quantitative", "scale": {"domain": [0, 30]}, "axis": {"values": [0, 10, 20, 30], "title": null}},
       "y": {"field": "v", "type": "quantitative", "scale": {"domain": [0.2, 0.5]}, "axis": {"values": [0.2, 0.3, 0.4, 0.5], "format": ".1f", "title": null}},
       "color": {"field": "s", "type": "nominal", "title": null, "scale": {"domain": ["Sync w. τ*", "Sync w. τ=1", "Async"]}},
       "strokeDash": {"field": "s", "type": "nominal", "title": null, "scale": {"domain": ["Sync w. τ*", "Sync w. τ=1", "Async"]}}}},
    {"width": 113, "height": 108, "title": "Case 4",
     "transform": [{"filter": "datum.c == 4 && datum.m == 'L'"}],
     "mark": {"type": "line", "clip": true},
     "encoding": {
       "x": {"field": "t", "type": "quantitative", "scale": {"domain": [0, 30]}, "axis": {"values": [0, 10, 20, 30], "title": null}},
       "y": {"field": "v", "type": "quantitative", "scale": {"domain": [0.2, 0.5]}, "axis": {"values": [0.2, 0.3, 0.4, 0.5], "format": ".1f", "title": null}},
       "color": {"field": "s", "type": "nominal", "title": null, "scale": {"domain": ["Sync w. τ*", "Sync w. τ=1", "Async"]}},
       "strokeDash": {"field": "s", "type": "nominal", "title": null, "scale": {"domain": ["Sync w. τ*", "Sync w. τ=1", "Async"]}}}},
    {"width": 113, "height": 100,
     "transform": [{"filter": "datum.c == 1 && datum.m == 'A'"}],
     "mark": {"type": "line", "clip": true},
     "encoding": {
       "x": {"field": "t", "type": "quantitative", "scale": {"domain": [0, 30]}, "axis": {"values": [0, 10, 20, 30], "title": "Time (s)"}},
       "y": {"field": "v", "type": "quantitative", "scale": {"domain": [0.7, 0.9]}, "axis": {"values": [0.7, 0.8, 0.9], "format": ".1f", "title": "Accuracy"}},
       "color": {"field": "s", "type": "nominal", "title": null, "scale": {"domain": ["Sync w. τ*", "Sync w. τ=1", "Async"]}},
       "strokeDash": {"field": "s", "type": "nominal", "title": null, "scale": {"domain": ["Sync w. τ*", "Sync w. τ=1", "Async"]}}}},
    {"width": 113, "height": 100,
     "transform": [{"filter": "datum.c == 2 && datum.m == 'A'"}],
     "mark": {"type": "line", "clip": true},
     "encoding": {
       "x": {"field": "t", "type": "quantitative", "scale": {"domain": [0, 30]}, "axis": {"values": [0, 10, 20, 30], "title": "Time (s)"}},
       "y": {"field": "v", "type": "quantitative", "scale": {"domain": [0.6, 0.9]}, "axis": {"values": [0.6, 0.7, 0.8, 0.9], "format": ".1f", "title": null}},
       "color": {"field": "s", "type": "nominal", "title": null, "scale": {"domain": ["Sync w. τ*", "Sync w. τ=1", "Async"]}},
       "strokeDash": {"field": "s", "type": "nominal", "title": null, "scale": {"domain": ["Sync w. τ*", "Sync w. τ=1", "Async"]}}}},
    {"width": 113, "height": 100,
     "transform": [{"filter": "datum.c == 3 && datum.m == 'A'"}],
     "mark": {"type": "line", "clip": true},
     "encoding": {
       "x": {"field": "t", "type": "quantitative", "scale": {"domain": [0, 30]}, "axis": {"values": [0, 10, 20, 30], "title": "Time (s)"}},
       "y": {"field": "v", "type": "quantitative", "scale": {"domain": [0.5, 0.9]}, "axis": {"values": [0.5, 0.6, 0.7, 0.8], "format": ".1f", "title": null}},
       "color": {"field": "s", "type": "nominal", "title": null, "scale": {"domain": ["Sync w. τ*", "Sync w. τ=1", "Async"]}},
       "strokeDash": {"field": "s", "type": "nominal", "title": null, "scale": {"domain": ["Sync w. τ*", "Sync w. τ=1", "Async"]}}}},
    {"width": 113, "height": 100,
     "transform": [{"filter": "datum.c == 4 && datum.m == 'A'"}],
     "mark": {"type": "line", "clip": true},
     "encoding": {
       "x": {"field": "t", "type": "quantitative", "scale": {"domain": [0, 30]}, "axis": {"values": [0, 10, 20, 30], "title": "Time (s)"}},
       "y": {"field": "v", "type": "quantitative", "scale": {"domain": [0.7, 0.9]}, "axis": {"values": [0.7, 0.8, 0.9], "format": ".1f", "title": null}},
       "color": {"field": "s", "type": "nominal", "title": null, "scale": {"domain": ["Sync w. τ*", "Sync w. τ=1", "Async"]}},
       "strokeDash": {"field": "s", "type": "nominal", "title": null, "scale": {"domain": ["Sync w. τ*", "Sync w. τ=1", "Async"]}}}}
  ],
  "resolve": {"scale": {"color": "shared", "strokeDash": "shared"}},
  "config": {
    "font": "Liberation Sans",
    "view": {"stroke": "#404040", "strokeWidth": 1},
    "line": {"strokeWidth": 2},
    "range": {
      "category": ["#00ff00", "#ff0000", "#0000ff"],
      "strokeDash": [[1, 0], [7, 5], [1.5, 1.5]]
    },
    "axis": {
      "grid": false,
      "domainColor": "#404040",
      "tickColor": "#404040",
      "labelColor": "#262626",
      "titleColor": "#262626",
      "labelFontSize": 11.5,
      "titleFontSize": 14,
      "titleFontWeight": "normal",
      "tickSize": -3,
      "labelFlush": false
    },
    "axisX": {"labelPadding": 11, "titlePadding": 3},
    "axisY": {"labelPadding": 8, "titlePadding": 14},
    "title": {"fontSize": 13, "fontWeight": "bold", "color": "#000000", "offset": 2, "frame": "group"},
    "legend": {
      "orient": "none",
      "legendX": 8,
      "legendY": -54,
      "direction": "horizontal",
      "symbolType": "stroke",
      "symbolSize": 1849,
      "symbolStrokeWidth": 2,
      "labelFontSize": 13,
      "labelColor": "#000000",
      "labelOffset": 4,
      "columnPadding": 46
    }
  }
}
